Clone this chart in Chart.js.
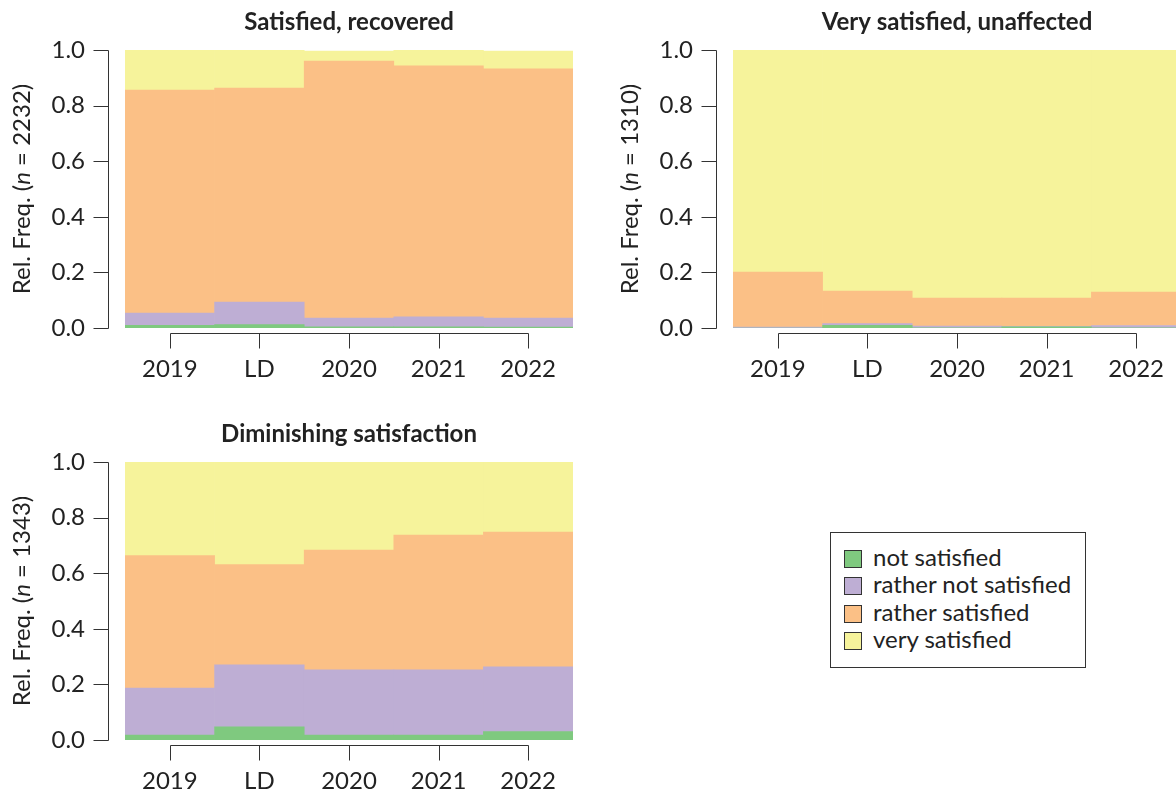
<!DOCTYPE html>
<html>
<head>
<meta charset="utf-8">
<script src="https://cdn.jsdelivr.net/npm/chart.js@4/dist/chart.umd.min.js"></script>
<style>
html,body{margin:0;padding:0;background:#fff;overflow:hidden;width:1176px;height:792px;position:relative;}
.panel{position:absolute;width:600px;height:400px;}
#legend{position:absolute;left:830px;top:532px;width:256px;height:136px;border:1px solid #333;box-sizing:border-box;font-family:Lato,sans-serif;font-size:24px;color:#222;}
.item{position:absolute;left:0;height:27px;width:250px;}
.sw{position:absolute;left:13px;top:4px;width:16px;height:16px;border:1px solid #333;}
.lab{position:absolute;left:42px;top:-3px;line-height:27px;white-space:nowrap;}
</style>
</head>
<body>
<div class="panel" style="left:0;top:0"><canvas id="c1" width="600" height="400"></canvas></div>
<div class="panel" style="left:608px;top:0"><canvas id="c2" width="600" height="400"></canvas></div>
<div class="panel" style="left:0;top:412px"><canvas id="c3" width="600" height="400"></canvas></div>
<div id="legend"></div>
<script>
// ---- data ----
const categories = ['2019', 'LD', '2020', '2021', '2022'];
const seriesNames = ['not satisfied', 'rather not satisfied', 'rather satisfied', 'very satisfied'];
const yTicks = [0, 0.2, 0.4, 0.6, 0.8, 1.0];

// Panel 1: Satisfied, recovered (n = 2232)
const p1NotSatisfied       = [0.010, 0.012, 0.004, 0.004, 0.003];
const p1RatherNotSatisfied = [0.044, 0.081, 0.032, 0.036, 0.033];
const p1RatherSatisfied    = [0.802, 0.770, 0.924, 0.903, 0.896];
const p1VerySatisfied      = [0.144, 0.137, 0.036, 0.057, 0.064];

// Panel 2: Very satisfied, unaffected (n = 1310)
const p2NotSatisfied       = [0.000, 0.010, 0.001, 0.004, 0.001];
const p2RatherNotSatisfied = [0.003, 0.006, 0.006, 0.002, 0.008];
const p2RatherSatisfied    = [0.198, 0.117, 0.101, 0.102, 0.120];
const p2VerySatisfied      = [0.799, 0.867, 0.892, 0.892, 0.871];

// Panel 3: Diminishing satisfaction (n = 1343)
const p3NotSatisfied       = [0.018, 0.047, 0.018, 0.018, 0.030];
const p3RatherNotSatisfied = [0.169, 0.223, 0.234, 0.234, 0.233];
const p3RatherSatisfied    = [0.476, 0.361, 0.431, 0.485, 0.485];
const p3VerySatisfied      = [0.337, 0.369, 0.317, 0.263, 0.252];

const panelTitles = ['Satisfied, recovered', 'Very satisfied, unaffected', 'Diminishing satisfaction'];
const panelN = ['2232', '1310', '1343'];

// ---- styles ----
const colors = ['#7fc97f', '#beaed4', '#fbc086', '#f6f39b'];
const FONT = 'Lato, "DejaVu Sans", sans-serif';
const TEXT = '#222222';
const AXIS = '#333333';

const rAxes = {
  id: 'rAxes',
  afterDraw(chart, args, opts) {
    const {ctx, chartArea: a, scales: {x, y}} = chart;
    ctx.save();
    ctx.strokeStyle = AXIS;
    ctx.lineWidth = 1;
    ctx.beginPath();
    // y axis (offset left)
    const ax = Math.round(a.left - 17) + 0.5;
    const yTop = Math.round(y.getPixelForValue(1)) + 0.5;
    const yBot = Math.round(y.getPixelForValue(0)) + 0.5;
    ctx.moveTo(ax, yBot); ctx.lineTo(ax, yTop);
    y.ticks.forEach((t, i) => {
      const py = Math.round(y.getPixelForTick(i)) + 0.5;
      ctx.moveTo(ax - 15, py); ctx.lineTo(ax, py);
    });
    // x axis (offset below)
    const ay = Math.round(a.bottom + 5) + 0.5;
    const xs = x.ticks.map((t, i) => Math.round(x.getPixelForTick(i)) + 0.5);
    ctx.moveTo(xs[0], ay); ctx.lineTo(xs[xs.length - 1], ay);
    xs.forEach(px => { ctx.moveTo(px, ay); ctx.lineTo(px, ay + 15); });
    ctx.stroke();

    // title
    ctx.fillStyle = TEXT;
    ctx.font = 'bold 24px ' + FONT;
    ctx.textAlign = 'center';
    ctx.textBaseline = 'middle';
    ctx.fillText(opts.title, (a.left + a.right) / 2, 22);

    // y axis label with italic n
    const parts = [['Rel. Freq. (', 'normal'], ['n', 'italic'], [' = ' + opts.n + ')', 'normal']];
    const fonts = parts.map(p => (p[1] === 'italic' ? 'italic ' : '') + '24px ' + FONT);
    const widths = parts.map((p, i) => { ctx.font = fonts[i]; return ctx.measureText(p[0]).width; });
    const total = widths.reduce((s, w) => s + w, 0);
    ctx.translate(22, (a.top + a.bottom) / 2);
    ctx.rotate(-Math.PI / 2);
    ctx.textAlign = 'left';
    let cx = -total / 2;
    parts.forEach((p, i) => { ctx.font = fonts[i]; ctx.fillText(p[0], cx, 0); cx += widths[i]; });
    ctx.restore();
  }
};

function makeChart(id, idx, seriesData) {
  new Chart(document.getElementById(id), {
    type: 'bar',
    data: {
      labels: categories,
      datasets: seriesNames.map((name, i) => ({
        label: name,
        data: seriesData[i],
        backgroundColor: colors[i],
        borderWidth: 0,
        barPercentage: 1,
        categoryPercentage: 1
      }))
    },
    options: {
      responsive: false,
      animation: false,
      devicePixelRatio: 1,
      layout: {padding: {left: 0, top: 50, right: 27, bottom: 0}},
      plugins: {
        legend: {display: false},
        title: {display: false},
        tooltip: {enabled: false},
        rAxes: {title: panelTitles[idx], n: panelN[idx]}
      },
      scales: {
        x: {
          stacked: true,
          grid: {display: false, drawTicks: false},
          border: {display: false},
          ticks: {font: {family: FONT, size: 24}, color: TEXT, padding: 27, maxRotation: 0, autoSkip: false},
          afterFit(s) { s.height = 72; s.paddingLeft = 0; s.paddingRight = 0; }
        },
        y: {
          stacked: true,
          min: 0, max: 1,
          grid: {display: false, drawTicks: false},
          border: {display: false},
          afterBuildTicks(s) { s.ticks = yTicks.map(v => ({value: v})); },
          ticks: {font: {family: FONT, size: 24}, color: TEXT, padding: 40, callback: v => Number(v).toFixed(1)},
          afterFit(s) { s.width = 125; s.paddingTop = 0; s.paddingBottom = 0; }
        }
      }
    },
    plugins: [rAxes]
  });
}

makeChart('c1', 0, [p1NotSatisfied, p1RatherNotSatisfied, p1RatherSatisfied, p1VerySatisfied]);
makeChart('c2', 1, [p2NotSatisfied, p2RatherNotSatisfied, p2RatherSatisfied, p2VerySatisfied]);
makeChart('c3', 2, [p3NotSatisfied, p3RatherNotSatisfied, p3RatherSatisfied, p3VerySatisfied]);

// legend
const leg = document.getElementById('legend');
seriesNames.forEach((name, i) => {
  const it = document.createElement('div');
  it.className = 'item';
  it.style.top = (13 + i * 27.3) + 'px';
  const sw = document.createElement('span');
  sw.className = 'sw';
  sw.style.background = colors[i];
  const lb = document.createElement('span');
  lb.className = 'lab';
  lb.textContent = name;
  it.appendChild(sw); it.appendChild(lb);
  leg.appendChild(it);
});
</script>
</body>
</html>
